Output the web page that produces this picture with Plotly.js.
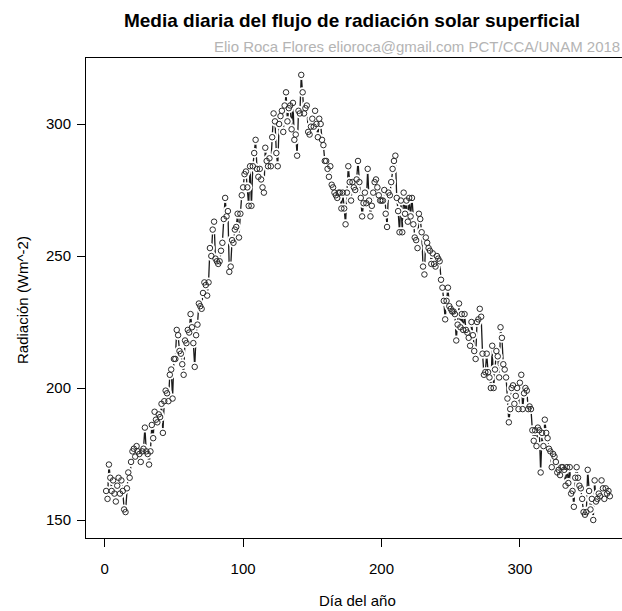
<!DOCTYPE html>
<html>
<head>
<meta charset="utf-8">
<script src="https://cdn.plot.ly/plotly-3.0.1.min.js"></script>
<style>
html, body { margin: 0; padding: 0; background: #fff; overflow: hidden; }
#chart { width: 640px; height: 611px; }
</style>
</head>
<body>
<div id="chart"></div>
<script>
// Daily mean surface solar radiation flux (W m^-2), day of year 1..365
const radiacion = [
  161, 158, 171, 166, 161, 165, 160, 157, 163, 166,
  160, 165, 161, 154, 153, 162, 168, 166, 172, 176,
  177, 174, 178, 176, 175, 172, 176, 177, 185, 176,
  175, 171, 176, 186, 181, 191, 188, 187, 190, 189,
  194, 183, 195, 199, 198, 195, 205, 207, 196, 211,
  211, 222, 220, 214, 213, 209, 205, 218, 217, 222,
  221, 228, 223, 217, 208, 220, 224, 232, 231, 230,
  236, 240, 239, 235, 240, 253, 250, 260, 263, 249,
  248, 247, 248, 252, 255, 264, 272, 265, 267, 244,
  246, 256, 255, 260, 261, 266, 257, 266, 273, 276,
  281, 282, 276, 269, 284, 269, 284, 289, 294, 283,
  280, 283, 279, 276, 274, 291, 286, 284, 287, 284,
  295, 304, 301, 289, 284, 300, 303, 305, 297, 307,
  312, 301, 306, 307, 298, 308, 294, 296, 288, 305,
  304, 318.6, 312, 304, 306, 307, 297, 296, 299, 302,
  299, 305, 300, 295, 302, 300, 294, 292, 286, 286,
  283, 280, 284, 277, 276, 274, 273, 272, 274, 274,
  268, 274, 268, 262, 274, 284, 278, 271, 278, 276,
  275, 279, 286, 278, 272, 265, 270, 274, 270, 283,
  271, 265, 269, 274, 278, 279, 276, 273, 271, 271,
  271, 275, 266, 261, 274, 273, 278, 283, 286, 288,
  272, 267, 259, 271, 259, 274, 266, 271, 263, 272,
  265, 272, 262, 257, 256, 253, 266, 264, 259, 246,
  243, 257, 255, 253, 252, 247, 251, 247, 246, 250,
  249, 248, 241, 238, 233, 226, 233, 238, 231, 230,
  229, 229, 228, 218, 224, 232, 223, 228, 222, 228,
  222, 221, 219, 216, 225, 220, 214, 211, 225, 226,
  230, 227, 213, 205, 206, 213, 206, 204, 200, 216,
  200, 207, 214, 212, 204, 223, 219, 209, 207, 204,
  196, 187, 192, 200, 201, 194, 197, 200, 192, 202,
  205, 192, 198, 200, 199, 192, 193, 192, 184, 180,
  184, 178, 185, 184, 168, 183, 178, 188, 183, 181,
  177, 176, 170, 175, 174, 172, 168, 169, 167, 170,
  170, 169, 163, 170, 164, 170, 160, 161, 155, 166,
  170, 166, 163, 162, 158, 153, 152, 153, 169, 161,
  154, 158, 150, 165, 157, 158, 160, 159, 165, 162,
  158, 162, 160, 161, 159
];
const dias = radiacion.map((_, i) => i + 1);

const xTicks = [0, 100, 200, 300];
const yTicks = [150, 200, 250, 300];

const tituloPrincipal = "Media diaria del flujo de radiación solar superficial";
const subtitulo = "Elio Roca Flores elioroca@gmail.com PCT/CCA/UNAM 2018";
const tituloX = "Día del año";
const tituloY = "Radiación (Wm^-2)";

const FONT = "'Liberation Sans', Arial, Helvetica, sans-serif";

const traces = [
  { // connecting lines (R type "b" look)
    x: dias, y: radiacion, type: "scatter", mode: "lines",
    line: { color: "#1a1a1a", width: 1.3 }, hoverinfo: "skip", showlegend: false
  },
  { // white gap around each point
    x: dias, y: radiacion, type: "scatter", mode: "markers",
    marker: { symbol: "circle", size: 10, color: "#ffffff", line: { width: 0 } },
    hoverinfo: "skip", showlegend: false
  },
  { // open circle points
    x: dias, y: radiacion, type: "scatter", mode: "markers",
    marker: { symbol: "circle-open", size: 5.5, color: "#2a2a2a", line: { width: 1, color: "#2a2a2a" } },
    showlegend: false
  }
];

const W = 640, H = 611;
const L = 86, R = 10, T = 58, B = 73;
const plotW = W - L - R, plotH = H - T - B;

const layout = {
  width: W, height: H,
  margin: { l: L, r: R, t: T, b: B, pad: 0 },
  paper_bgcolor: "#ffffff", plot_bgcolor: "#ffffff",
  font: { family: FONT, size: 15, color: "#000" },
  showlegend: false,
  title: {
    text: "<b>" + tituloPrincipal + "</b>",
    font: { family: FONT, size: 19, color: "#000" },
    x: (352 - L) / plotW, xref: "paper", xanchor: "center",
    y: 1 - 20 / H, yref: "container", yanchor: "middle"
  },
  xaxis: {
    range: [-13.56, 379.56],
    tickmode: "array", tickvals: xTicks, ticktext: xTicks.map(String),
    ticks: "outside", ticklen: 8, tickwidth: 1, tickcolor: "#000",
    ticklabelstandoff: 9,
    showline: true, linecolor: "#000", linewidth: 1, mirror: true,
    showgrid: false, zeroline: false,
    tickfont: { family: FONT, size: 15, color: "#000" },
    title: { text: "" }
  },
  yaxis: {
    range: [143.18, 325],
    tickmode: "array", tickvals: yTicks, ticktext: yTicks.map(String),
    ticks: "outside", ticklen: 8, tickwidth: 1, tickcolor: "#000",
    ticklabelstandoff: 3,
    showline: true, linecolor: "#000", linewidth: 1, mirror: true,
    showgrid: false, zeroline: false,
    tickfont: { family: FONT, size: 15, color: "#000" },
    title: { text: "" }
  },
  annotations: [
    {
      text: subtitulo, xref: "paper", yref: "paper",
      x: (622 - L) / plotW, y: 1 + 12 / plotH, xanchor: "right", yanchor: "middle",
      showarrow: false, font: { family: FONT, size: 15, color: "#b4b4b4" }
    },
    {
      text: tituloX, xref: "paper", yref: "paper",
      x: (357 - L) / plotW, y: -(600 - (T + plotH)) / plotH, xanchor: "center", yanchor: "middle",
      showarrow: false, font: { family: FONT, size: 15, color: "#000" }
    },
    {
      text: tituloY, xref: "paper", yref: "paper", textangle: -90,
      x: (22 - L) / plotW, y: 1 - (300 - T) / plotH, xanchor: "center", yanchor: "middle",
      showarrow: false, font: { family: FONT, size: 15, color: "#000" }
    }
  ]
};

Plotly.newPlot("chart", traces, layout, { staticPlot: true, displayModeBar: false });
</script>
</body>
</html>
